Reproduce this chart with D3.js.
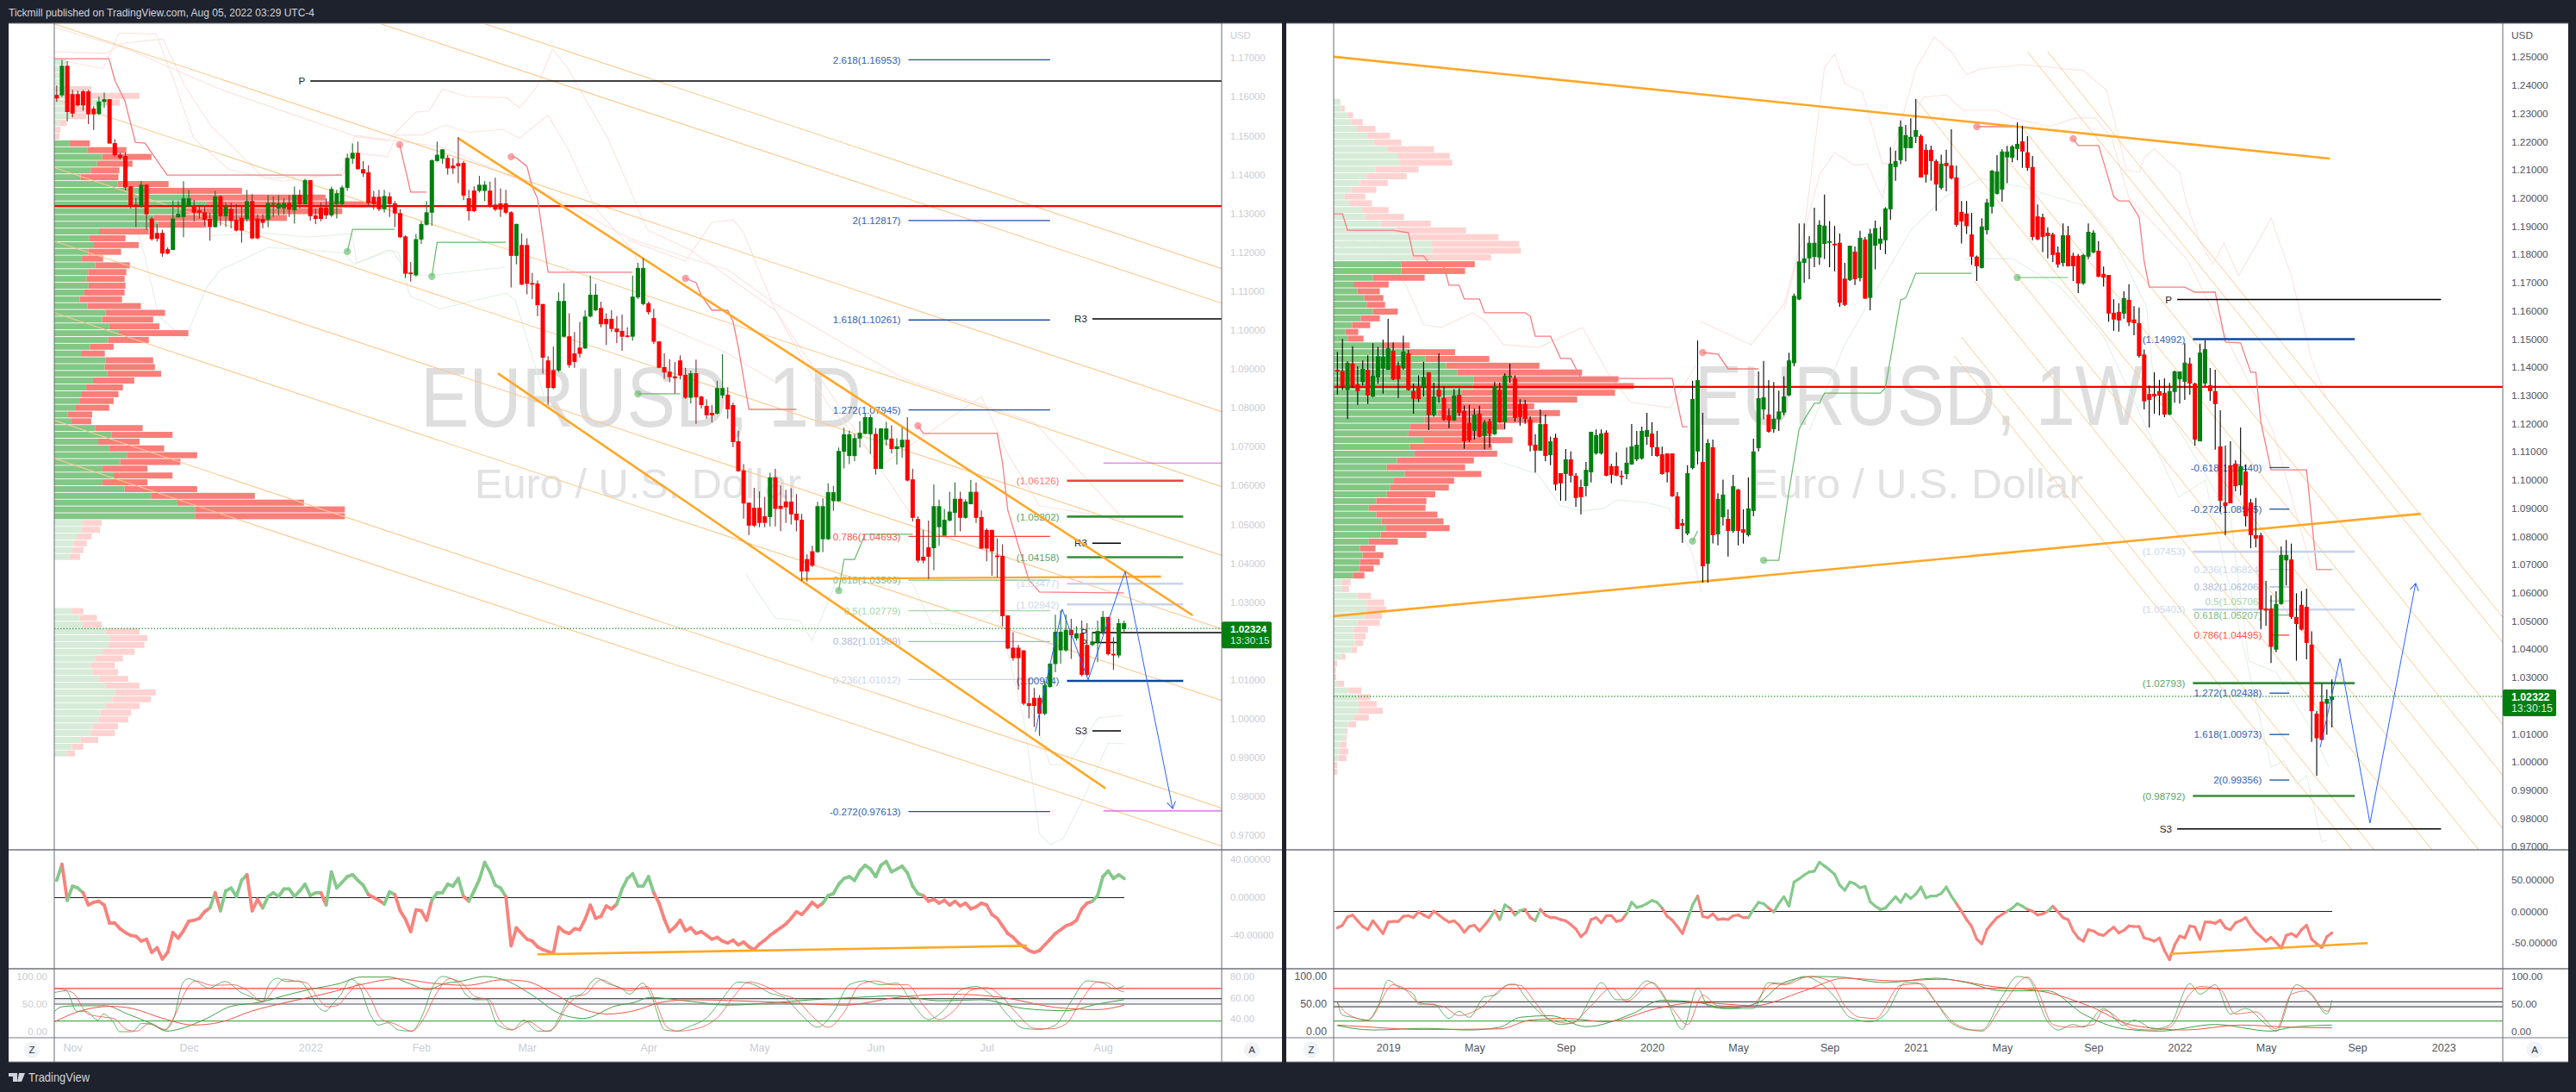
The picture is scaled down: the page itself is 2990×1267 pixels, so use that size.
<!DOCTYPE html>
<html>
<head>
<meta charset="utf-8">
<title>EURUSD 1D / 1W</title>
<script src="https://cdn.jsdelivr.net/npm/d3@7"></script>
<style>
  html, body { margin: 0; padding: 0; background: #1e222d; }
  svg { display: block; }
  text { font-family: "Liberation Sans", Arial, sans-serif; }
  .domain { display: none; }
</style>
</head>
<body>
<div id="chart"></div>
<script>
// Daily candles: open, high, low, close
var dailyCandles = [
[1.1605,1.1629,1.1587,1.1596],[1.1604,1.1695,1.1599,1.1680],[1.1680,1.1692,1.1537,1.1561],[1.1607,1.1618,1.1547,1.1557],
[1.1607,1.1616,1.1576,1.1578],[1.1614,1.1618,1.1564,1.1578],[1.1614,1.1618,1.1530,1.1555],[1.1570,1.1576,1.1515,1.1555],
[1.1556,1.1601,1.1553,1.1588],[1.1587,1.1611,1.1572,1.1594],[1.1594,1.1594,1.1480,1.1480],[1.1481,1.1491,1.1446,1.1450],
[1.1451,1.1457,1.1439,1.1443],[1.1448,1.1457,1.1360,1.1367],[1.1370,1.1370,1.1313,1.1319],[1.1323,1.1339,1.1265,1.1317],
[1.1318,1.1383,1.1315,1.1374],[1.1374,1.1376,1.1258,1.1298],[1.1287,1.1291,1.1230,1.1234],[1.1250,1.1273,1.1228,1.1235],
[1.1250,1.1258,1.1189,1.1197],[1.1208,1.1213,1.1195,1.1197],[1.1206,1.1333,1.1206,1.1287],[1.1290,1.1332,1.1290,1.1299],
[1.1291,1.1383,1.1239,1.1339],[1.1318,1.1361,1.1317,1.1339],[1.1321,1.1335,1.1280,1.1302],[1.1308,1.1321,1.1287,1.1302],
[1.1303,1.1317,1.1269,1.1284],[1.1286,1.1302,1.1230,1.1265],[1.1265,1.1358,1.1264,1.1344],[1.1344,1.1347,1.1269,1.1293],
[1.1293,1.1328,1.1265,1.1318],[1.1312,1.1328,1.1262,1.1281],[1.1284,1.1324,1.1254,1.1256],[1.1289,1.1321,1.1225,1.1256],
[1.1286,1.1361,1.1280,1.1332],[1.1332,1.1350,1.1234,1.1236],[1.1287,1.1298,1.1234,1.1236],[1.1286,1.1298,1.1262,1.1276],
[1.1284,1.1347,1.1265,1.1327],[1.1323,1.1344,1.1291,1.1327],[1.1313,1.1347,1.1295,1.1326],[1.1313,1.1339,1.1298,1.1327],
[1.1327,1.1347,1.1291,1.1310],[1.1308,1.1369,1.1274,1.1348],[1.1348,1.1361,1.1313,1.1324],[1.1324,1.1389,1.1323,1.1386],
[1.1386,1.1386,1.1281,1.1293],[1.1295,1.1313,1.1273,1.1286],[1.1315,1.1328,1.1280,1.1286],[1.1315,1.1339,1.1286,1.1295],
[1.1295,1.1369,1.1291,1.1363],[1.1324,1.1361,1.1287,1.1352],[1.1324,1.1372,1.1317,1.1367],[1.1366,1.1454,1.1358,1.1443],
[1.1441,1.1480,1.1428,1.1456],[1.1456,1.1485,1.1413,1.1414],[1.1414,1.1435,1.1394,1.1403],[1.1406,1.1424,1.1317,1.1326],
[1.1343,1.1358,1.1310,1.1324],[1.1343,1.1361,1.1306,1.1311],[1.1311,1.1361,1.1302,1.1345],[1.1344,1.1354,1.1291,1.1324],
[1.1326,1.1332,1.1265,1.1300],[1.1301,1.1311,1.1237,1.1239],[1.1241,1.1244,1.1134,1.1145],[1.1148,1.1175,1.1125,1.1144],
[1.1141,1.1247,1.1138,1.1234],[1.1233,1.1280,1.1222,1.1273],[1.1271,1.1332,1.1269,1.1303],[1.1302,1.1439,1.1269,1.1437],
[1.1435,1.1485,1.1433,1.1451],[1.1441,1.1465,1.1428,1.1465],[1.1443,1.1450,1.1400,1.1416],[1.1423,1.1443,1.1402,1.1416],
[1.1429,1.1496,1.1378,1.1422],[1.1430,1.1435,1.1334,1.1346],[1.1339,1.1361,1.1282,1.1306],[1.1359,1.1370,1.1304,1.1306],
[1.1358,1.1397,1.1354,1.1374],[1.1358,1.1383,1.1332,1.1374],[1.1359,1.1382,1.1315,1.1318],[1.1323,1.1392,1.1306,1.1310],
[1.1326,1.1365,1.1291,1.1310],[1.1326,1.1361,1.1298,1.1302],[1.1303,1.1306,1.1110,1.1191],[1.1191,1.1274,1.1169,1.1273],
[1.1219,1.1249,1.1116,1.1117],[1.1219,1.1236,1.1092,1.1119],[1.1121,1.1147,1.1080,1.1117],[1.1120,1.1128,1.1036,1.1064],
[1.1067,1.1067,1.0888,1.0929],[1.0922,1.0933,1.0808,1.0851],[1.0897,1.0958,1.0848,1.0851],[1.0896,1.1097,1.0892,1.1075],
[1.0983,1.1121,1.0981,1.1075],[1.0984,1.1043,1.0903,1.0910],[1.0940,1.0995,1.0903,1.0918],[1.0955,1.1021,1.0929,1.0939],
[1.0953,1.1051,1.0951,1.1035],[1.1035,1.1140,1.1032,1.1091],[1.1051,1.1119,1.1049,1.1091],[1.1057,1.1073,1.1007,1.1015],
[1.1029,1.1043,1.0962,1.1015],[1.1029,1.1051,1.0995,1.1003],[1.1004,1.1036,1.0966,1.0995],[1.0998,1.1040,1.0947,1.0983],
[1.0986,1.1007,1.0981,1.0983],[1.0983,1.1140,1.0973,1.1086],[1.1084,1.1173,1.1080,1.1160],[1.1067,1.1185,1.1064,1.1160],
[1.1069,1.1073,1.1040,1.1046],[1.1031,1.1055,1.0964,1.0970],[1.0971,1.0971,1.0903,1.0903],[1.0905,1.0940,1.0875,1.0891],
[1.0893,1.0925,1.0866,1.0879],[1.0881,1.0918,1.0837,1.0876],[1.0922,1.0935,1.0873,1.0883],[1.0885,1.0903,1.0823,1.0826],
[1.0826,1.0896,1.0811,1.0889],[1.0889,1.0924,1.0759,1.0827],[1.0829,1.0831,1.0798,1.0807],[1.0805,1.0822,1.0772,1.0781],
[1.0787,1.0807,1.0763,1.0781],[1.0785,1.0870,1.0783,1.0851],[1.0832,1.0938,1.0825,1.0851],[1.0834,1.0853,1.0772,1.0796],
[1.0807,1.0814,1.0699,1.0712],[1.0714,1.0741,1.0635,1.0637],[1.0639,1.0655,1.0515,1.0554],[1.0556,1.0556,1.0473,1.0497],
[1.0543,1.0594,1.0493,1.0497],[1.0543,1.0585,1.0493,1.0504],[1.0521,1.0571,1.0493,1.0504],[1.0519,1.0633,1.0495,1.0621],
[1.0621,1.0643,1.0495,1.0540],[1.0548,1.0600,1.0483,1.0540],[1.0559,1.0589,1.0504,1.0544],[1.0559,1.0593,1.0500,1.0526],
[1.0528,1.0578,1.0482,1.0511],[1.0512,1.0527,1.0355,1.0379],[1.0411,1.0423,1.0353,1.0379],[1.0431,1.0445,1.0390,1.0394],
[1.0429,1.0558,1.0427,1.0547],[1.0462,1.0567,1.0429,1.0547],[1.0462,1.0606,1.0460,1.0583],[1.0560,1.0599,1.0535,1.0583],
[1.0560,1.0698,1.0559,1.0689],[1.0687,1.0749,1.0644,1.0732],[1.0676,1.0741,1.0655,1.0732],[1.0676,1.0733,1.0663,1.0722],
[1.0721,1.0766,1.0698,1.0736],[1.0733,1.0786,1.0732,1.0776],[1.0732,1.0783,1.0681,1.0776],[1.0733,1.0748,1.0628,1.0643],
[1.0643,1.0748,1.0643,1.0747],[1.0718,1.0764,1.0703,1.0747],[1.0721,1.0755,1.0683,1.0694],[1.0694,1.0722,1.0654,1.0701],
[1.0698,1.0749,1.0672,1.0718],[1.0718,1.0776,1.0611,1.0613],[1.0616,1.0643,1.0508,1.0517],[1.0514,1.0521,1.0402,1.0407],
[1.0417,1.0486,1.0400,1.0407],[1.0441,1.0510,1.0360,1.0417],[1.0439,1.0603,1.0382,1.0547],[1.0493,1.0564,1.0445,1.0547],
[1.0471,1.0540,1.0471,1.0512],[1.0510,1.0584,1.0508,1.0533],[1.0530,1.0608,1.0471,1.0566],[1.0566,1.0584,1.0482,1.0517],
[1.0517,1.0565,1.0515,1.0559],[1.0552,1.0615,1.0552,1.0584],[1.0584,1.0608,1.0504,1.0517],[1.0519,1.0536,1.0437,1.0438],
[1.0486,1.0490,1.0405,1.0438],[1.0486,1.0486,1.0368,1.0431],[1.0420,1.0464,1.0364,1.0416],[1.0419,1.0449,1.0238,1.0264],
[1.0266,1.0266,1.0179,1.0181],[1.0183,1.0223,1.0149,1.0156],[1.0183,1.0190,1.0075,1.0156],[1.0176,1.0176,1.0035,1.0039],
[1.0040,1.0105,1.0001,1.0033],[1.0054,1.0079,0.9979,1.0033],[1.0054,1.0061,0.9956,1.0013],[1.0013,1.0098,1.0009,1.0087],
[1.0082,1.0142,1.0080,1.0142],[1.0141,1.0268,1.0120,1.0224],[1.0176,1.0279,1.0142,1.0224],[1.0176,1.0268,1.0173,1.0229],
[1.0229,1.0257,1.0154,1.0215],[1.0207,1.0238,1.0201,1.0220],[1.0220,1.0253,1.0109,1.0113],[1.0190,1.0246,1.0109,1.0113],
[1.0190,1.0223,1.0187,1.0199],[1.0196,1.0253,1.0146,1.0226],[1.0223,1.0277,1.0216,1.0262],[1.0262,1.0262,1.0163,1.0166],
[1.0167,1.0210,1.0126,1.0163],[1.0163,1.0257,1.0157,1.0246],[1.0231,1.0253,1.0223,1.0246]
];

// Weekly candles: open, high, low, close
var weeklyCandles = [
[1.1391,1.1454,1.1303,1.1385],[1.1386,1.1500,1.1319,1.1332],[1.1319,1.1421,1.1217,1.1416],[1.1413,1.1474,1.1327,1.1332],
[1.1339,1.1403,1.1266,1.1315],[1.1347,1.1424,1.1335,1.1394],[1.1391,1.1442,1.1269,1.1299],[1.1296,1.1485,1.1294,1.1370],
[1.1364,1.1472,1.1342,1.1439],[1.1395,1.1498,1.1306,1.1437],[1.1391,1.1571,1.1390,1.1467],[1.1458,1.1488,1.1354,1.1357],
[1.1406,1.1419,1.1291,1.1357],[1.1396,1.1512,1.1391,1.1455],[1.1449,1.1461,1.1317,1.1319],[1.1315,1.1342,1.1235,1.1288],
[1.1332,1.1371,1.1276,1.1287],[1.1329,1.1419,1.1296,1.1365],[1.1382,1.1382,1.1177,1.1230],[1.1230,1.1345,1.1225,1.1296],
[1.1321,1.1449,1.1273,1.1296],[1.1291,1.1332,1.1210,1.1214],[1.1229,1.1253,1.1184,1.1211],[1.1211,1.1322,1.1210,1.1299],
[1.1302,1.1325,1.1227,1.1238],[1.1245,1.1264,1.1111,1.1137],[1.1203,1.1266,1.1135,1.1141],[1.1174,1.1253,1.1143,1.1232],
[1.1235,1.1263,1.1151,1.1153],[1.1156,1.1212,1.1108,1.1205],[1.1208,1.1217,1.1115,1.1165],[1.1162,1.1347,1.1159,1.1333],
[1.1321,1.1345,1.1203,1.1205],[1.1205,1.1378,1.1181,1.1370],[1.1364,1.1412,1.1345,1.1370],[1.1360,1.1371,1.1207,1.1220],
[1.1269,1.1286,1.1192,1.1223],[1.1269,1.1284,1.1199,1.1217],[1.1214,1.1225,1.1101,1.1122],[1.1125,1.1162,1.1026,1.1104],
[1.1104,1.1250,1.1103,1.1198],[1.1198,1.1232,1.1067,1.1085],[1.1088,1.1154,1.1052,1.1137],[1.1150,1.1164,1.0963,1.0984],
[1.1024,1.1024,1.0926,1.0988],[1.1021,1.1110,1.0926,1.1073],[1.1073,1.1101,1.0991,1.1015],[1.1015,1.1024,1.0905,1.0936],
[1.0975,1.1001,1.0878,1.0939],[1.0978,1.1064,1.0942,1.1036],[1.1027,1.1171,1.0991,1.1171],[1.1094,1.1179,1.1090,1.1159],
[1.1094,1.1179,1.1090,1.1165],[1.1168,1.1176,1.1013,1.1015],[1.1049,1.1057,1.0988,1.1018],[1.1049,1.1098,1.1013,1.1015],
[1.1015,1.1033,1.0982,1.1012],[1.1021,1.1115,1.1003,1.1061],[1.1055,1.1198,1.1054,1.1119],[1.1073,1.1174,1.1067,1.1125],
[1.1076,1.1189,1.1072,1.1174],[1.1153,1.1238,1.1125,1.1177],[1.1165,1.1205,1.1085,1.1116],[1.1116,1.1174,1.1082,1.1085],
[1.1091,1.1118,1.1019,1.1021],[1.1094,1.1094,1.0991,1.1027],[1.1094,1.1094,1.0940,1.0942],[1.0942,1.0957,1.0825,1.0826],
[1.0847,1.0862,1.0777,1.0838],[1.0810,1.1052,1.0804,1.1024],[1.1042,1.1352,1.1038,1.1287],[1.1101,1.1495,1.1055,1.1354],
[1.1064,1.1238,1.0636,1.0694],[1.0703,1.1145,1.0636,1.1131],[1.1116,1.1143,1.0775,1.0804],[1.0807,1.0953,1.0768,1.0933],
[1.0868,1.1001,1.0838,1.0948],[1.0862,1.0896,1.0728,1.0819],[1.0819,1.1018,1.0812,1.0978],[1.0966,1.0968,1.0768,1.0819],
[1.0825,1.0896,1.0774,1.0813],[1.0804,1.1009,1.0799,1.0899],[1.0890,1.1146,1.0871,1.1101],[1.1113,1.1385,1.1101,1.1290],
[1.1250,1.1422,1.1215,1.1293],[1.1232,1.1354,1.1168,1.1171],[1.1180,1.1347,1.1168,1.1217],[1.1215,1.1317,1.1174,1.1243],
[1.1239,1.1368,1.1230,1.1296],[1.1300,1.1451,1.1297,1.1424],[1.1414,1.1661,1.1403,1.1653],[1.1640,1.1910,1.1638,1.1775],
[1.1770,1.1910,1.1699,1.1786],[1.1786,1.1865,1.1712,1.1841],[1.1791,1.1966,1.1755,1.1841],[1.1789,1.1921,1.1763,1.1905],
[1.1837,1.2012,1.1784,1.1902],[1.1841,1.1918,1.1755,1.1847],[1.1838,1.1901,1.1740,1.1832],[1.1841,1.1874,1.1614,1.1628],
[1.1714,1.1770,1.1617,1.1621],[1.1709,1.1831,1.1706,1.1831],[1.1810,1.1828,1.1691,1.1712],[1.1716,1.1884,1.1704,1.1859],
[1.1853,1.1862,1.1643,1.1643],[1.1646,1.1891,1.1602,1.1874],[1.1831,1.1920,1.1747,1.1893],[1.1838,1.1898,1.1816,1.1856],
[1.1850,1.1967,1.1801,1.1963],[1.1960,1.2180,1.1923,1.2122],[1.2110,1.2168,1.2061,1.2131],[1.2134,1.2275,1.2120,1.2253],
[1.2177,1.2259,1.2130,1.2223],[1.2177,1.2283,1.2177,1.2217],[1.2217,1.2351,1.2195,1.2241],[1.2220,1.2226,1.2073,1.2073],
[1.2171,1.2191,1.2055,1.2083],[1.2171,1.2186,1.2061,1.2131],[1.2131,1.2137,1.1954,1.2048],[1.2036,1.2154,1.2030,1.2122],
[1.2125,1.2171,1.2024,1.2113],[1.2116,1.2244,1.2066,1.2070],[1.2073,1.2115,1.1898,1.1905],[1.1951,1.1989,1.1839,1.1917],
[1.1945,1.1989,1.1872,1.1900],[1.1871,1.1947,1.1763,1.1792],[1.1792,1.1796,1.1706,1.1758],[1.1752,1.1928,1.1750,1.1899],
[1.1886,1.1997,1.1871,1.1984],[1.1969,1.2099,1.1945,1.2097],[1.2015,1.2152,1.2012,1.2094],[1.2030,1.2173,1.1987,1.2165],
[1.2144,1.2185,1.2053,1.2165],[1.2143,1.2188,1.2127,1.2183],[1.2174,1.2268,1.2134,1.2192],[1.2201,1.2256,1.2107,1.2165],
[1.2162,1.2219,1.2096,1.2107],[1.2110,1.2149,1.1850,1.1862],[1.1935,1.1977,1.1850,1.1853],[1.1932,1.1944,1.1808,1.1862],
[1.1877,1.1896,1.1786,1.1865],[1.1871,1.1877,1.1773,1.1798],[1.1807,1.1828,1.1753,1.1764],[1.1770,1.1910,1.1757,1.1868],
[1.1868,1.1901,1.1757,1.1758],[1.1795,1.1806,1.1706,1.1758],[1.1795,1.1801,1.1663,1.1697],[1.1697,1.1801,1.1692,1.1798],
[1.1792,1.1910,1.1784,1.1880],[1.1807,1.1885,1.1804,1.1877],[1.1813,1.1847,1.1719,1.1721],[1.1731,1.1757,1.1686,1.1718],
[1.1727,1.1727,1.1561,1.1590],[1.1593,1.1641,1.1529,1.1569],[1.1596,1.1627,1.1526,1.1566],[1.1590,1.1669,1.1572,1.1645],
[1.1639,1.1694,1.1546,1.1559],[1.1569,1.1616,1.1513,1.1556],[1.1556,1.1612,1.1434,1.1440],[1.1445,1.1463,1.1250,1.1279],
[1.1305,1.1335,1.1186,1.1284],[1.1305,1.1382,1.1235,1.1296],[1.1315,1.1355,1.1229,1.1299],[1.1309,1.1360,1.1223,1.1232],
[1.1232,1.1344,1.1230,1.1315],[1.1312,1.1388,1.1274,1.1385],[1.1357,1.1385,1.1271,1.1385],[1.1348,1.1485,1.1284,1.1416],
[1.1413,1.1434,1.1302,1.1342],[1.1342,1.1345,1.1122,1.1143],[1.1137,1.1483,1.1137,1.1452],[1.1342,1.1495,1.1332,1.1464],
[1.1336,1.1397,1.1281,1.1315],[1.1315,1.1391,1.1107,1.1269],[1.1119,1.1247,1.0887,1.0926],[1.0920,1.1122,1.0804,1.0908],
[1.1052,1.1137,1.0917,1.0917],[1.1058,1.1070,1.0960,1.0978],[1.0981,1.1186,1.0945,1.1049],[1.1030,1.1055,1.0835,1.0871],
[1.0920,1.0933,1.0758,1.0804],[1.0804,1.0936,1.0761,1.0792],[1.0804,1.0812,1.0471,1.0540],[1.0544,1.0642,1.0483,1.0537],
[1.0544,1.0591,1.0351,1.0408],[1.0398,1.0605,1.0389,1.0560],[1.0560,1.0764,1.0558,1.0734],[1.0715,1.0787,1.0626,1.0734],
[1.0718,1.0774,1.0507,1.0514],[1.0514,1.0598,1.0359,1.0489],[1.0557,1.0605,1.0466,1.0469],[1.0550,1.0614,1.0364,1.0422],
[1.0416,1.0463,1.0071,1.0180],[1.0171,1.0180,0.9951,1.0084],[1.0214,1.0277,1.0076,1.0078],[1.0206,1.0257,1.0096,1.0223],
[1.0220,1.0293,1.0122,1.0232]
];

// Volume profile rows, top price row downwards
var dailyUpVolume = [26,16,15,14,36,83,116,26,39,11,4,4,
  34,75,109,97,83,60,144,214,306,346,296,226,236,102,80,90,77,63,93,77,74,78,67,58,76,117,109,125,147,123,81,61,117,115,121,88,71,61,57,49,31,39,93,
  130,100,125,165,150,110,135,110,160,220,280,320,320,
  65,62,51,44,40,35,0,0,0,0,0,0,0,
  40,58,65,117,127,123,110,94,83,87,101,116,139,132,116,105,101,87,83,60,40,28];
var dailyDownVolume = [1,1,1,1,48,111,33,50,34,17,10,8,
  47,89,112,81,65,86,116,213,311,395,359,303,110,113,82,102,75,48,79,87,86,84,93,96,121,135,116,114,158,92,54,54,108,114,122,94,85,85,78,76,55,45,108,
  139,94,125,160,137,102,134,102,165,236,288,341,341,
  43,42,34,30,26,24,0,0,0,0,0,0,0,
  26,39,43,77,85,82,73,62,55,58,67,78,92,88,78,70,67,58,55,40,26,19];
var weeklyUpVolume = [12,17,32,40,53,76,91,121,145,151,95,75,60,40,25,35,65,73,107,142,173,222,225,177,
  154,154,89,47,54,70,75,89,62,42,27,32,
  112,170,209,256,281,318,317,291,255,255,236,207,173,170,204,174,184,144,121,162,137,129,121,97,80,97,109,118,107,80,60,66,60,58,44,
  18,18,54,75,75,72,54,44,46,48,40,17,2,2,2,10,34,54,57,57,47,34,26,26,15,13,11,2,2];
var weeklyDownVolume = [3,8,12,26,42,52,63,107,119,119,98,91,63,57,47,52,60,87,114,159,202,200,201,181,
  167,145,118,78,51,43,42,57,43,41,29,36,
  61,106,145,212,284,330,366,349,299,201,279,266,217,190,203,186,188,175,178,174,137,133,110,114,129,139,141,146,104,66,35,47,45,33,26,
  21,17,31,40,45,38,51,34,27,19,13,10,6,3,4,14,29,30,41,55,33,17,5,4,14,20,18,6,6];

// Momentum pane, one value per bar
var dailyMomentum = [18,35,-3,12,10,5,-8,-5,-4,-8,-27,-27,-33,-37,-40,-41,-46,-44,-58,-53,-65,-58,-37,-43,-35,-25,-24,-22,-15,-11,5,-14,7,10,1,18,24,-14,-2,-11,1,5,1,9,9,1,7,14,2,5,5,-8,27,10,16,22,24,18,13,3,0,-3,-7,6,3,-14,-23,-36,-13,-14,-24,-3,5,5,14,12,20,1,-4,7,19,37,27,13,10,1,-51,-32,-38,-44,-46,-52,-55,-57,-59,-31,-36,-38,-33,-34,-23,-8,-22,-20,-9,-12,-7,9,20,25,12,12,22,5,-6,-23,-36,-31,-24,-35,
  -32,-38,-36,-40,-44,-42,-46,-48,-45,-50,-47,-52,-55,-49,-45,-40,-36,-32,-28,-22,-15,-18,-12,-5,-10,-6,2,4,14,20,22,18,28,34,30,22,34,38,27,30,33,26,12,4,2,-4,-2,-6,-3,-8,-4,-9,-6,-12,-10,-6,-8,-18,-22,-30,-38,-42,-48,-52,-56,-58,-56,-50,-44,-38,-34,-30,-28,-24,-12,-6,-4,2,22,28,20,24,20];
var weeklyMomentum = [-26,-22,-9,-6,-15,-24,-29,-15,-25,-35,-17,-16,-16,-8,-7,-10,-1,-6,-10,0,-6,-12,-17,-15,-22,-33,-24,-22,-31,-22,-12,1,-13,10,5,-6,1,3,-10,-15,3,-6,-10,-10,-13,-15,-21,-28,-40,-33,-13,-10,-18,-7,-7,-16,-14,-4,14,6,8,12,17,14,5,-8,-14,-24,-35,-13,10,24,-8,-10,-4,-13,-12,-13,-7,-6,-10,-10,3,14,12,5,-1,12,23,8,46,51,57,62,63,77,71,65,58,41,33,46,43,37,39,15,8,3,5,14,23,14,27,20,27,38,21,24,24,28,38,24,12,0,-13,-24,-44,-51,-29,-19,-10,-5,0,5,12,8,3,0,-6,-4,0,8,-1,-10,-13,-31,-42,-47,-29,-31,-36,-38,-31,-25,-34,-30,-23,-24,-24,-42,-44,-47,-42,-62,-76,-53,-39,-42,-23,-25,-44,-17,-17,-19,-14,-26,-29,-18,-15,-10,-23,-33,-40,-47,-41,-49,-58,-38,-35,-40,-29,-22,-44,-51,-57,-40,-34];

// Stochastic pane, bar and value as read at the turning points
var dailyStochFast = [[0.6,71],[2.8,74],[4.8,37],[6.5,37],[8.8,21],[9.8,32],[11.8,16],[12.9,0],[15.3,0],[17.1,15],[19,13],[21.5,3],[23.2,26],[24.8,87],[25.9,96],[27.3,92],[29.8,79],[32.9,91],[35.9,71],[37.8,63],[40,54],[41.1,84],[42.8,97],[44.4,91],[46.9,92],[48.6,74],[50.3,47],[51.9,37],[53.2,50],[54.8,68],[56.7,95],[58.2,84],[60.3,32],[61.9,12],[63.6,16],[65.7,3],[68.2,1],[70.3,32],[72.3,84],[74,100],[76.9,89],[78.4,68],[80.3,58],[82.3,58],[84.4,13],[87.3,3],[89.4,21],[92.1,1],[94.4,1],[96.1,26],[98.2,63],[100.3,68],[103.2,97],[105.3,87],[107.8,79],[109.4,68],[111.9,88],[113.6,63],[116.1,3],[118.2,1],[120.9,10],[124,25],[127,60],[130,90],[133,85],[136,70],[139,60],[142,30],[145,8],[148,35],[151,85],[154,92],[157,85],[160,88],[163,50],[166,22],[169,40],[172,75],[175,82],[178,65],[181,30],[184,6],[187,4],[190,12],[193,55],[196,92],[199,88],[201,78],[203,83]];
var dailyStochSignal = [[0.6,79],[4,71],[6.9,32],[10.3,26],[11.8,24],[14.4,3],[16.1,1],[18.6,15],[21.5,4],[22.9,21],[26.1,84],[27.3,92],[30.3,84],[34.4,85],[36.9,76],[40,55],[42.3,79],[44,95],[46.5,91],[48.2,89],[50.3,63],[52.3,45],[54,47],[56.1,68],[58.2,87],[60.3,63],[62.3,24],[65.3,13],[68.2,1],[70.3,21],[72.8,68],[75.3,96],[77.8,87],[80.3,63],[82.8,58],[84.8,21],[87.3,4],[90.3,18],[93.6,1],[95.3,8],[97.3,42],[99.4,63],[101.1,68],[104,94],[106.9,82],[109.4,74],[112.8,82],[114.4,53],[116.5,8],[118.6,1],[120.9,3],[126,25],[129,62],[132,90],[135,83],[138,68],[141,58],[144,28],[147,8],[150,35],[153,85],[156,92],[159,85],[162,85],[165,48],[168,22],[171,40],[174,75],[177,80],[180,62],[183,30],[186,6],[189,5],[192,14],[195,58],[198,90],[200,88],[202,75],[203,72]];
var dailyStochSlowUp = [[0.6,37],[1.9,45],[4.8,47],[10.3,47],[14.4,32],[18.6,16],[21.9,1],[25.3,8],[29.4,24],[34,46],[39.4,53],[44.4,66],[48.6,76],[54.4,87],[58.6,99],[64,99],[67.8,87],[71.1,76],[74.4,87],[77.8,92],[81.9,100],[85.3,95],[91.5,63],[95.3,37],[100.7,24],[106.9,47],[110.3,53],[113.2,62],[120.9,55],[128,48],[136,52],[144,58],[152,62],[160,65],[168,56],[176,58],[184,42],[192,38],[198,50],[203,58]];
var dailyStochSlowDown = [[0.6,18],[5.3,37],[11.1,46],[15.3,42],[21.1,24],[26.9,12],[31.9,17],[37.8,37],[44.4,53],[51.9,69],[59.4,87],[65.3,96],[71.9,88],[78.6,84],[85.3,94],[89.4,92],[95.3,68],[100.3,42],[105.3,32],[110.3,38],[115.3,53],[120.9,58],[130,56],[140,52],[150,48],[160,62],[170,68],[180,62],[190,44],[198,40],[203,48]];
var weeklyStochFast = [[1,53],[2,30],[4,26],[7,21],[9,47],[11,93],[13,81],[16,68],[17,50],[20,50],[23,24],[25,37],[27,26],[30,63],[32,66],[35,86],[36,86],[38,63],[42,26],[45,13],[48,18],[51,63],[53,89],[56,58],[58,58],[62,92],[63,89],[66,53],[69,4],[72,79],[74,47],[77,42],[83,42],[86,89],[89,87],[93,100],[96,89],[99,63],[102,26],[106,18],[109,32],[113,89],[115,89],[119,53],[122,16],[126,3],[128,3],[132,63],[135,100],[137,97],[141,18],[143,3],[146,13],[148,8],[152,42],[156,11],[158,21],[162,5],[165,12],[169,87],[171,68],[174,85],[177,32],[180,42],[184,13],[186,1],[190,85],[193,66],[196,32],[197,57]];
var weeklyStochSignal = [[1,53],[3,32],[7,21],[12,85],[14,79],[17,53],[22,45],[25,29],[29,42],[35,85],[37,84],[40,53],[43,21],[47,15],[51,47],[55,79],[58,55],[63,89],[67,42],[70,13],[73,66],[76,47],[82,45],[87,87],[89,85],[94,100],[98,92],[101,47],[104,26],[107,24],[112,84],[116,87],[119,53],[123,13],[128,1],[132,47],[137,99],[139,74],[142,13],[145,8],[150,13],[152,39],[158,5],[162,3],[165,8],[169,68],[171,82],[175,76],[178,32],[182,36],[186,5],[189,68],[192,74],[196,37],[197,45]];
var weeklyStochSlowUp = [[1,11],[8,3],[18,6],[27,3],[33,8],[37,26],[43,29],[50,9],[59,32],[65,57],[72,53],[78,42],[84,53],[89,89],[95,100],[100,99],[109,89],[119,97],[125,89],[132,74],[141,74],[148,32],[156,5],[163,1],[174,13],[185,1],[189,8],[197,12]];
var weeklyStochSlowDown = [[1,12],[8,8],[17,4],[33,5],[39,21],[46,24],[54,18],[64,42],[72,53],[83,47],[93,74],[101,97],[111,92],[120,95],[130,82],[141,71],[149,47],[158,11],[168,3],[179,12],[189,8],[197,7]];

// Step lines that start with a dot: bar, price
var dailyRedSteps = [
  [[0.5,1.1698],[10.9,1.1698],[12,1.1643],[13.9,1.1590],[15.9,1.1483],[17.7,1.1481],[21.9,1.1399],[55,1.1399]],
  [[65.9,1.1477],[68,1.1355],[71,1.1355]],
  [[87,1.1446],[88,1.1443],[90,1.1421],[91,1.1368],[92,1.1339],[94,1.1149],[110,1.1149]],
  [[120,1.1133],[122,1.1122],[123,1.1089],[125,1.1051],[128,1.1051],[129,1.1022],[130,1.0956],[132,1.0796],[141,1.0796]],
  [[164,1.0754],[165,1.0734],[179,1.0734],[180,1.0659],[181,1.0537],[183,1.0446],[185,1.0357],[187,1.0326],[203,1.0324]]
];
var dailyGreenSteps = [
  [[56,1.1202],[57,1.1259],[65,1.1259]],
  [[72,1.1138],[73,1.1226],[86,1.1226]],
  [[111,1.0836],[119,1.0836]],
  [[149,1.0330],[150,1.0410],[152,1.0410],[154,1.0475],[163,1.0475]]
];
var weeklyRedSteps = [
  [[0.3,1.1944],[2,1.1944],[3,1.1886],[12,1.1886],[15,1.1877],[16,1.1795],[18,1.1795],[19,1.1770],[22,1.1755],[23,1.1691],[25,1.1691],[26,1.1642],[29,1.1642],[30,1.1593],[38,1.1593],[39,1.1581],[40,1.1510],[43,1.1510],[45,1.1431],[47,1.1431],[49,1.1360],[67,1.1360],[69,1.1189],[70,1.1189]],
  [[73,1.1452],[76,1.1446],[78,1.1394],[84,1.1394]],
  [[127,1.2253],[134,1.2253]],
  [[146,1.2210],[147,1.2186],[151,1.2186],[152,1.2128],[154,1.2005],[155,1.1990],[157,1.1990],[159,1.1932],[160,1.1776],[161,1.1684],[168,1.1684],[170,1.1666],[174,1.1666],[176,1.1489],[179,1.1486],[181,1.1382],[182,1.1382],[183,1.1205],[185,1.1036],[192,1.1036],[194,1.0682],[197,1.0682]]
];
var weeklyGreenSteps = [
  [[71,1.0783],[72,1.0819]],
  [[85,1.0715],[88,1.0715],[90,1.0960],[92,1.1180],[93,1.1214],[95,1.1272],[96,1.1272],[97,1.1308],[108,1.1308],[109,1.1327],[112,1.1639],[113,1.1645],[115,1.1733],[126,1.1733]],
  [[135,1.1718],[145,1.1718]]
];

// Pale envelope lines: bar, price
var dailyPinkBands = [
  [[0.7,1.1779],[14.4,1.1723],[31.9,1.1620],[56.9,1.1502],[73.6,1.1472],[90.3,1.1376],[109.4,1.1236],[120.9,1.1184],[128,1.1155],[137,1.1067],[161.5,1.0874],[186,1.0763],[203,1.0512]],
  [[0.7,1.1697],[9.8,1.1673],[12.8,1.1764],[19.8,1.1762],[23.2,1.1642],[26.9,1.1494],[33.6,1.1413],[43.6,1.1383],[55.3,1.1402],[57.3,1.1498],[63.6,1.1487],[69,1.1561],[71.5,1.1564],[74,1.1620],[78.6,1.1601],[86.1,1.1598],[88.6,1.1572],[91.9,1.1627],[94.8,1.1723],[97.8,1.1672],[105.3,1.1494],[112.8,1.1258],[120.9,1.1206],[137,1.1051],[163,1.0519]],
  [[0.7,1.1716],[10.3,1.1712],[13.6,1.1738],[21.1,1.1749],[25.3,1.1627],[30.3,1.1524],[40.3,1.1391],[54.4,1.1398],[56.9,1.1457],[63.6,1.1446],[65.3,1.1502],[70.3,1.1502],[74.4,1.1527],[79,1.1509],[85.3,1.1516],[88.6,1.1494],[94,1.1553],[97.8,1.1465],[102.8,1.1317],[110.3,1.1199],[114,1.1022],[128,1.0940],[137,1.0867]],
  [[109,1.1233],[120,1.1177],[125,1.1277],[129,1.1284],[131,1.1251],[137,1.1051],[147,1.0807],[157,1.0652],[176,1.0829],[181,1.0681],[187,1.0548],[203,1.0512]]
];
var dailyGreenBands = [
  [[11,1.1502],[17.8,1.1184],[20.3,1.1036],[25.3,1.0977],[29.4,1.1110],[31.9,1.1154],[41.1,1.1213],[48.6,1.1206],[55.3,1.1199],[57.3,1.1169],[64.4,1.1206],[67.8,1.1140],[73.6,1.1143],[86,1.1162]],
  [[30.3,1.1243],[40.3,1.1250],[48.6,1.1239],[55.3,1.1247],[56.9,1.1247],[57.8,1.1173],[63.6,1.1206],[65.7,1.1199],[67.8,1.1088],[73.6,1.1055],[86,1.1095],[87.8,1.1077],[93.6,1.0814],[98.6,1.0748]],
  [[131.5,1.0370],[137,1.0259],[141.6,1.0253],[144,1.0202],[149,1.0370],[163,1.0348],[166.5,1.0246],[174,1.0237],[179,1.0282],[184,1.0002],[187,0.9705],[189,0.9676],[191.5,0.9692],[195.6,0.9803],[200,0.9938],[203,0.9936]],
  [[184,1.0075],[189,0.9882],[192.5,0.9882],[198,1.0002],[203,1.0009]]
];
var weeklyPinkBands = [
  [[72.5,1.1562],[82.5,1.1480],[89,1.1623],[93,1.1886],[97,1.2464],[99,1.2510],[101,1.2406],[104.5,1.2375],[108.4,1.2122],[109.8,1.2122],[115,1.2458],[118.6,1.2571],[122,1.2519],[125,1.2437],[127.7,1.2458],[136,1.2473],[148,1.2452],[152.6,1.2382],[155,1.2213],[156.5,1.2100],[159,1.2091],[160,1.2143],[162,1.2174],[167,1.2091],[168.4,1.1978],[171,1.1846],[173.5,1.1764],[175.7,1.1840],[178.6,1.1724],[182.5,1.1846],[185,1.1929],[187.6,1.1795],[189,1.1724],[193,1.1428],[196,1.1287]],
  [[89,1.1602],[96,1.2082],[99,1.2161],[103,1.2116],[105.4,1.2122],[108.4,1.1999],[110,1.2122],[116.4,1.2357],[121,1.2366],[124.3,1.2311],[131,1.2311],[134,1.2284],[141.3,1.2253],[146.4,1.2284],[150.3,1.2284],[153.6,1.2213],[157,1.2000],[168.4,1.1785],[178.6,1.1419],[185.4,1.1174],[193,1.0685]],
  [[0.3,1.1807],[5.9,1.1868],[9.4,1.1837],[14.7,1.1684],[18,1.1550],[21.5,1.1541],[27.6,1.1593],[30.2,1.1562],[33.7,1.1480],[40.7,1.1470],[49.3,1.1541],[54.3,1.1379],[58.8,1.1276],[66.6,1.1256],[71.7,1.1409]]
];
var weeklyGreenBands = [
  [[33.7,1.1061],[40.5,1.1021],[45,1.0908],[49.4,1.0890],[53.5,1.0899],[56,1.0929],[62,1.0920],[66.4,1.0899],[71,1.0737],[72.7,1.0602]],
  [[94,1.1174],[101,1.1480],[114,1.1886],[121,1.2009],[128,1.2070],[132,1.2051],[136,1.2039],[149,1.1969],[153.6,1.1868],[160.5,1.1611],[162,1.1327],[177,1.0868],[180.6,1.0358],[186,1.0318],[192.6,1.0125],[196.4,0.9982]],
  [[124.9,1.1785],[134,1.1785],[143.5,1.1684],[152,1.1510],[166.8,1.0939],[172,1.1000],[185,0.9982],[187.5,1.0003],[190,0.9921],[192,0.9951],[195,0.9716],[196,0.9722]]
];

// Channel lines: price at a bar, then sloping down at a fixed rate
var dailyChannels = [[121,1.1612],[121,1.1523],[121,1.1244],[121,1.1051],[121,1.0874],[121,1.0685],[121,1.0501],[121,1.0224],[121,1.0126]];
var weeklyChannels = [[141,1.2519],[137,1.2519],[136,1.2250],[133,1.2137],[115,1.2351],[129,1.1856],[126.5,1.1706],[124,1.1507],[122.6,1.1440]];
var dailyChannelSlope = 0.0004515;
var weeklyChannelSlope = 0.002237;

// Thick trend lines: bar, price, bar, price
var dailyTrends = [[76.9,1.1494,216,1.0266],[84.5,1.0889,199.5,0.9821]];
var weeklyTrends = [[0.3,1.2501,196.6,1.2140],[0.3,1.0517,214.5,1.0880]];
var dailyFlatBand = [142,1.0360,210,1.0366];

// Forecast waves: bar, price
var dailyWave = [[186.2,0.9967],[191.3,1.0282],[196.2,1.0100],[203.2,1.0379],[212.2,0.9769]];
var weeklyWave = [[194.7,1.0052],[198.6,1.0367],[204.5,0.9783],[213.5,1.0633]];

// Levels: price, first bar, last bar, label, colour group
var dailyLevels = [
  [1.16953,162.2,189,"2.618(1.16953)","blue"],[1.12817,162.2,189,"2(1.12817)","blue"],
  [1.10261,162.2,189,"1.618(1.10261)","blue"],[1.07945,162.2,189,"1.272(1.07945)","blue"],
  [1.04693,162.2,189,"0.786(1.04693)","red"],[1.03569,162.2,189,"0.618(1.03569)","green2"],
  [1.02779,162.2,189,"0.5(1.02779)","green3"],[1.01989,162.2,189,"0.382(1.01989)","pale"],
  [1.01012,162.2,189,"0.236(1.01012)","paler"],[0.97613,162.2,189,"-0.272(0.97613)","blue"],
  [1.06126,192.2,214.2,"(1.06126)","redBold"],[1.05202,192.2,214.2,"(1.05202)","greenBold"],
  [1.04158,192.2,214.2,"(1.04158)","greenBold"],[1.03477,192.2,214.2,"(1.03477)","paleBold"],
  [1.02942,192.2,214.2,"(1.02942)","paleBold"],[1.00974,192.2,214.2,"(1.00974)","blueBold"]
];
var weeklyLevels = [
  [1.14992,169.6,201.5,"(1.14992)","blueBold"],[1.07453,169.6,201.5,"(1.07453)","paleBold"],
  [1.05403,169.6,201.5,"(1.05403)","paleBold"],[1.02793,169.6,201.5,"(1.02793)","greenBold"],
  [0.98792,169.6,201.5,"(0.98792)","greenBold"],
  [1.10440,184.7,188.6,"-0.618(1.10440)","blue"],[1.08965,184.7,188.6,"-0.272(1.08965)","blue"],
  [1.06824,184.7,188.6,"0.236(1.06824)","paler"],[1.06206,184.7,188.6,"0.382(1.06206)","pale"],
  [1.05706,184.7,188.6,"0.5(1.05706)","green3"],[1.05207,184.7,188.6,"0.618(1.05207)","green2"],
  [1.04495,184.7,188.6,"0.786(1.04495)","red"],[1.02438,184.7,188.6,"1.272(1.02438)","blue"],
  [1.00973,184.7,188.6,"1.618(1.00973)","blue"],[0.99356,184.7,188.6,"2(0.99356)","blue"]
];
var levelColours = {
  blue: ["#1c4fa0", 1.3, "#2f62b3"], red: ["#f44336", 1.3, "#f4574c"], green2: ["#7dbb84", 1.3, "#7dbb84"],
  green3: ["#a5d6a7", 1.3, "#a5d6a7"], pale: ["#9db4da", 1.3, "#a9bcdc"], paler: ["#c5d4ec", 1.3, "#c9d6ec"],
  redBold: ["#f44336", 2.6, "#f77c70"], greenBold: ["#388e3c", 2.6, "#5ca463"], paleBold: ["#c8d4ea", 2.6, "#ccd7ec"], blueBold: ["#0d47a1", 2.6, "#3566b4"]
};

// Pivot lines: price, first bar, last bar, label
var dailyPivots = [[1.1641,49,221.5,"P"],[1.1029,197,221.5,"R3"],[1.0452,197,202.4,"R3"],[1.0222,197,221.5,"P"],[1.0196,197,202.4,"P"],[0.9969,197,202.4,"S3"]];
var weeklyPivots = [[1.1640,166.5,218.5,"P"],[0.9762,166.5,218.5,"S3"]];
var dailyMagenta = [[1.0658,199.1,221.5],[0.9763,199.1,221.5]];

// Axis ticks
var dailyPriceTicks = d3.range(97, 118).map(function(d) { return d / 100; });
var weeklyPriceTicks = d3.range(97, 126).map(function(d) { return d / 100; });
var dailyTimeBars = [4,26,49,70,90,113,134,156,177,199];
var dailyTimeLabels = ["Nov","Dec","2022","Feb","Mar","Apr","May","Jun","Jul","Aug"];
var weeklyTimeBars = [11,28,46,63,80,98,115,132,150,167,184,202,219];
var weeklyTimeLabels = ["2019","May","Sep","2020","May","Sep","2021","May","Sep","2022","May","Sep","2023"];

var svgWidth = 2990;
var svgHeight = 1267;

var svg = d3.select("#chart").append("svg")
    .attr("width", svgWidth)
    .attr("height", svgHeight);

svg.append("defs").append("marker")
    .attr("id", "arrow")
    .attr("markerUnits", "userSpaceOnUse")
    .attr("markerWidth", 14).attr("markerHeight", 14)
    .attr("refX", 10).attr("refY", 6)
    .attr("orient", "auto")
  .append("path")
    .attr("d", "M2,1 L10,6 L2,11")
    .attr("fill", "none")
    .attr("stroke", "#2962ff")
    .attr("stroke-width", 1);

// Header and footer
svg.append("text")
    .attr("x", 10).attr("y", 18.5)
    .attr("fill", "#d1d4dc")
    .attr("font-size", 12.5)
    .attr("textLength", 355).attr("lengthAdjust", "spacingAndGlyphs")
    .text("Tickmill published on TradingView.com, Aug 05, 2022 03:29 UTC-4");
svg.append("path")
    .attr("d", "M10,1245 H20 V1255 H15 V1249 H10 Z M22,1245 H29 L25,1255 H20 Z")
    .attr("fill", "#d1d4dc");
svg.append("text")
    .attr("x", 33).attr("y", 1255)
    .attr("fill", "#d1d4dc")
    .attr("font-size", 15)
    .attr("textLength", 71).attr("lengthAdjust", "spacingAndGlyphs")
    .text("TradingView");

var panelId = 0;

// d3.format puts a unicode minus in, the chart uses a plain hyphen
function fixed(digits) {
  return function(d) { return d.toFixed(digits); };
}

function drawPanel(cfg) {
  panelId += 1;
  var g = svg.append("g");
  var x = d3.scaleLinear().domain(cfg.barDomain).range(cfg.barRange);
  var y = d3.scaleLinear().domain(cfg.priceDomain).range(cfg.priceRange);
  var yMom = d3.scaleLinear().domain([-1, 1]).range([cfg.momZero + cfg.momScale, cfg.momZero - cfg.momScale]);
  var yStoch = d3.scaleLinear().domain([0, 100]).range([1197, 1133]);
  var volX = d3.scaleLinear().domain([0, 196]).range([0, 100]);

  g.append("rect")
      .attr("x", cfg.left).attr("y", 27)
      .attr("width", cfg.right - cfg.left).attr("height", 1205)
      .attr("fill", "#ffffff");

  var clipMain = "clipMain" + panelId;
  var clipMom = "clipMom" + panelId;
  var clipStoch = "clipStoch" + panelId;
  var defs = svg.select("defs");
  defs.append("clipPath").attr("id", clipMain).append("rect")
      .attr("x", cfg.plotLeft).attr("y", 28).attr("width", cfg.plotRight - cfg.plotLeft).attr("height", 958);
  defs.append("clipPath").attr("id", clipMom).append("rect")
      .attr("x", cfg.plotLeft).attr("y", 986).attr("width", cfg.plotRight - cfg.plotLeft).attr("height", 138);
  defs.append("clipPath").attr("id", clipStoch).append("rect")
      .attr("x", cfg.plotLeft).attr("y", 1124).attr("width", cfg.plotRight - cfg.plotLeft).attr("height", 80);

  // Watermark
  g.append("text")
      .attr("x", cfg.markX).attr("y", cfg.markY)
      .attr("font-size", 98).attr("fill", "#dedede")
      .attr("textLength", cfg.markLength).attr("lengthAdjust", "spacingAndGlyphs")
      .text(cfg.symbol);
  g.append("text")
      .attr("x", cfg.subX).attr("y", 578)
      .attr("font-size", 48).attr("fill", "#e2e2e2")
      .attr("textLength", cfg.subLength).attr("lengthAdjust", "spacingAndGlyphs")
      .text("Euro / U.S. Dollar");

  var main = g.append("g").attr("clip-path", "url(#" + clipMain + ")");
  var priceLine = d3.line().x(function(d) { return x(d[0]); }).y(function(d) { return y(d[1]); });

  // Pale envelopes
  cfg.pink.forEach(function(b) {
    main.append("path").attr("d", priceLine(b)).attr("fill", "none").attr("stroke", "#fde3e0").attr("stroke-width", 1.1);
  });
  cfg.greenBands.forEach(function(b) {
    main.append("path").attr("d", priceLine(b)).attr("fill", "none").attr("stroke", "#e3f1e5").attr("stroke-width", 1.1);
  });

  // Volume profile
  var rowH = Math.abs(y(0) - y(cfg.rowBin));
  cfg.up.forEach(function(u, i) {
    var price = cfg.rowTop - i * cfg.rowBin;
    var dark = i >= cfg.darkFrom && i <= cfg.darkTo;
    var rowY = y(price) - rowH / 2 + 0.4;
    main.append("rect")
        .attr("x", cfg.plotLeft).attr("y", rowY)
        .attr("width", volX(u)).attr("height", rowH - 0.9)
        .attr("fill", dark ? "#82c785" : "#d6ebd8");
    main.append("rect")
        .attr("x", cfg.plotLeft + volX(u)).attr("y", rowY)
        .attr("width", volX(cfg.down[i])).attr("height", rowH - 0.9)
        .attr("fill", dark ? "#f97d78" : "#fed2d0");
  });

  // Channels
  cfg.channels.forEach(function(c) {
    var endBar = cfg.barDomain[1] + 60;
    main.append("line")
        .attr("x1", x(c[0] - cfg.channelBack)).attr("y1", y(c[1] + cfg.channelBack * cfg.slope))
        .attr("x2", x(endBar)).attr("y2", y(c[1] - (endBar - c[0]) * cfg.slope))
        .attr("stroke", cfg.channelColour).attr("stroke-width", cfg.channelWidth);
  });

  // Main horizontal red level
  main.append("line")
      .attr("x1", cfg.plotLeft).attr("x2", cfg.plotRight)
      .attr("y1", y(cfg.redLevel)).attr("y2", y(cfg.redLevel))
      .attr("stroke", "#ff0000").attr("stroke-width", 2.4);

  // Step lines with dots
  function steps(list, colour) {
    list.forEach(function(s) {
      main.append("path").attr("d", priceLine(s)).attr("fill", "none").attr("stroke", colour).attr("stroke-width", 1.2);
      main.append("circle")
          .attr("cx", x(s[0][0])).attr("cy", y(s[0][1])).attr("r", 4.2)
          .attr("fill", colour).attr("opacity", 0.65);
    });
  }
  cfg.redSteps.forEach(function(s) {
    main.append("path").attr("d", priceLine(s)).attr("fill", "none").attr("stroke", "#f77c80").attr("stroke-width", 1.3);
    if (s[0][0] > 1) {
      main.append("circle").attr("cx", x(s[0][0])).attr("cy", y(s[0][1])).attr("r", 4.2).attr("fill", "#f77c80").attr("opacity", 0.7);
    }
  });
  steps(cfg.greenSteps, "#66bb6a");

  // Levels with labels
  cfg.levels.forEach(function(l) {
    var c = levelColours[l[4]];
    main.append("line")
        .attr("x1", x(l[1])).attr("x2", x(l[2]))
        .attr("y1", y(l[0])).attr("y2", y(l[0]))
        .attr("stroke", c[0]).attr("stroke-width", c[1]);
    main.append("text")
        .attr("x", x(l[1]) - 9).attr("y", y(l[0]) + 4.2)
        .attr("text-anchor", "end").attr("font-size", 11.6)
        .attr("fill", c[2])
        .text(l[3]);
  });

  // Pivots
  cfg.pivots.forEach(function(p) {
    main.append("line")
        .attr("x1", x(p[1])).attr("x2", x(p[2]))
        .attr("y1", y(p[0])).attr("y2", y(p[0]))
        .attr("stroke", "#000000").attr("stroke-width", 1.5);
    main.append("text")
        .attr("x", x(p[1]) - 6).attr("y", y(p[0]) + 4.2)
        .attr("text-anchor", "end").attr("font-size", 11.6)
        .attr("fill", "#222")
        .text(p[3]);
  });
  (cfg.magenta || []).forEach(function(m) {
    main.append("line")
        .attr("x1", x(m[1])).attr("x2", x(m[2]))
        .attr("y1", y(m[0])).attr("y2", y(m[0]))
        .attr("stroke", "#d65ce0").attr("stroke-width", 1.2);
  });

  // Thick trends
  cfg.trends.forEach(function(t) {
    main.append("line")
        .attr("x1", x(t[0])).attr("y1", y(t[1]))
        .attr("x2", x(t[2])).attr("y2", y(t[3]))
        .attr("stroke", "#ffa726").attr("stroke-width", 2.6);
  });
  if (cfg.flat) {
    main.append("line")
        .attr("x1", x(cfg.flat[0])).attr("y1", y(cfg.flat[1]))
        .attr("x2", x(cfg.flat[2])).attr("y2", y(cfg.flat[3]))
        .attr("stroke", "#ffa726").attr("stroke-width", 2.4);
  }

  // Candles
  var candle = main.selectAll("g.candle").data(cfg.candles).enter().append("g").attr("class", "candle");
  candle.append("line")
      .attr("x1", function(d, i) { return x(i + 1); })
      .attr("x2", function(d, i) { return x(i + 1); })
      .attr("y1", function(d) { return y(d[1]); })
      .attr("y2", function(d) { return y(d[2]); })
      .attr("stroke", function(d) { return cfg.wick(d[3] >= d[0]); })
      .attr("stroke-width", 1.1);
  candle.append("rect")
      .attr("x", function(d, i) { return x(i + 1) - 2.5; })
      .attr("width", 5)
      .attr("y", function(d) { return y(Math.max(d[0], d[3])); })
      .attr("height", function(d) { return Math.max(1.6, Math.abs(y(d[0]) - y(d[3]))); })
      .attr("fill", function(d) { return d[3] >= d[0] ? "#007f0e" : "#ff0000"; });

  // Forecast wave
  main.append("path")
      .attr("d", priceLine(cfg.wave))
      .attr("fill", "none").attr("stroke", "#2962ff").attr("stroke-width", 1)
      .attr("marker-end", "url(#arrow)");

  // Last price marker
  main.append("line")
      .attr("x1", cfg.plotLeft).attr("x2", cfg.plotRight)
      .attr("y1", y(cfg.last)).attr("y2", y(cfg.last))
      .attr("stroke", "#007f0e").attr("stroke-width", 1)
      .attr("stroke-dasharray", "1.5 2");

  // Momentum pane
  var mom = g.append("g").attr("clip-path", "url(#" + clipMom + ")");
  mom.append("line")
      .attr("x1", cfg.plotLeft).attr("x2", x(cfg.candles.length))
      .attr("y1", yMom(0)).attr("y2", yMom(0))
      .attr("stroke", "#1e1e1e").attr("stroke-width", 1.2)
      .attr("shape-rendering", "crispEdges");
  mom.selectAll("line.seg").data(d3.pairs(cfg.momentum)).enter().append("line")
      .attr("class", "seg")
      .attr("x1", function(d, i) { return x(i + 1); })
      .attr("x2", function(d, i) { return x(i + 2); })
      .attr("y1", function(d) { return yMom(d[0]); })
      .attr("y2", function(d) { return yMom(d[1]); })
      .attr("stroke", function(d) { return d[1] > 0 ? "#85c98a" : "#f9827c"; })
      .attr("stroke-width", cfg.momWidth)
      .attr("stroke-linecap", "round");
  mom.append("line")
      .attr("x1", x(cfg.momTrend[0])).attr("y1", yMom(cfg.momTrend[1]))
      .attr("x2", x(cfg.momTrend[2])).attr("y2", yMom(cfg.momTrend[3]))
      .attr("stroke", "#ffa726").attr("stroke-width", 2.6);

  // Stochastic pane
  var sto = g.append("g").attr("clip-path", "url(#" + clipStoch + ")");
  sto.append("rect")
      .attr("x", cfg.plotLeft).attr("width", cfg.plotRight - cfg.plotLeft)
      .attr("y", yStoch(cfg.stochBand[0])).attr("height", yStoch(cfg.stochBand[1]) - yStoch(cfg.stochBand[0]))
      .attr("fill", "#f2f3f8");
  [[cfg.stochBand[0], "#555"], [cfg.stochBand[1], "#555"], [78.2, "#f44336"], [19.4, "#4caf50"]].forEach(function(r) {
    sto.append("line")
        .attr("x1", cfg.plotLeft).attr("x2", cfg.plotRight)
        .attr("y1", yStoch(r[0])).attr("y2", yStoch(r[0]))
        .attr("stroke", r[1]).attr("stroke-width", 1.2);
  });
  var stochLine = d3.line().x(function(d) { return x(d[0]); }).y(function(d) { return yStoch(d[1]); }).curve(d3.curveMonotoneX);
  [[cfg.slowUp, "#43a047", 1], [cfg.slowDown, "#f05545", 1], [cfg.fast, "#43a047", 0.8], [cfg.signal, "#f05545", 0.8]].forEach(function(s) {
    sto.append("path").attr("d", stochLine(s[0]))
        .attr("fill", "none").attr("stroke", s[1]).attr("stroke-width", s[2]);
  });

  // Frame lines
  [[986, "#2a2e39", 1.2], [1124, "#2a2e39", 1.2], [1204, "#787b86", 1.2], [1232, "#9598a1", 1.2], [27, "#787b86", 1]].forEach(function(h) {
    g.append("line").attr("x1", cfg.left).attr("x2", cfg.right)
        .attr("y1", h[0]).attr("y2", h[0]).attr("stroke", h[1]).attr("stroke-width", h[2]);
  });
  [cfg.plotLeft, cfg.plotRight].forEach(function(v) {
    g.append("line").attr("x1", v).attr("x2", v).attr("y1", 27).attr("y2", 1232)
        .attr("stroke", "#6a6d78").attr("stroke-width", 1);
  });

  // Axes
  function styleAxis(a, colour, size) {
    a.selectAll("text").attr("fill", colour).attr("font-size", size)
        .attr("font-family", "Liberation Sans, Arial, sans-serif");
    a.select(".domain").remove();
  }
  var priceAxis = g.append("g").attr("transform", "translate(" + cfg.plotRight + ",0)")
      .call(d3.axisRight(y).tickValues(cfg.priceTicks).tickSize(0).tickPadding(10).tickFormat(fixed(5)));
  styleAxis(priceAxis, cfg.axisColour, cfg.axisSize);
  var momAxis = g.append("g").attr("transform", "translate(" + cfg.plotRight + ",0)")
      .call(d3.axisRight(yMom).tickValues(cfg.momTicks).tickSize(0).tickPadding(10).tickFormat(fixed(5)));
  styleAxis(momAxis, cfg.axisColour, cfg.axisSize);
  var stochRightScale = d3.scaleLinear().domain(cfg.stochRight.domain).range(cfg.stochRight.range);
  var stochAxis = g.append("g").attr("transform", "translate(" + cfg.plotRight + ",0)")
      .call(d3.axisRight(stochRightScale).tickValues(cfg.stochRight.ticks).tickSize(0).tickPadding(10).tickFormat(fixed(2)));
  styleAxis(stochAxis, cfg.axisColour, cfg.axisSize);
  var stochLeftAxis = g.append("g").attr("transform", "translate(" + cfg.plotLeft + ",0)")
      .call(d3.axisLeft(yStoch).tickValues([0, 50, 100]).tickSize(0).tickPadding(8).tickFormat(fixed(2)));
  styleAxis(stochLeftAxis, cfg.axisColour, cfg.axisSize + 0.5);
  var timeAxis = g.append("g").attr("transform", "translate(0,1204)")
      .call(d3.axisBottom(x).tickValues(cfg.timeBars).tickSize(0).tickPadding(7)
        .tickFormat(function(d, i) { return cfg.timeLabels[i]; }));
  styleAxis(timeAxis, cfg.axisColour, 12.5);

  g.append("text")
      .attr("x", cfg.plotRight + 10).attr("y", 45)
      .attr("fill", cfg.axisColour).attr("font-size", cfg.axisSize)
      .text("USD");

  // Price badge
  var by = y(cfg.last);
  g.append("rect")
      .attr("x", cfg.plotRight).attr("y", by - 8)
      .attr("width", cfg.badgeWidth).attr("height", 31).attr("rx", 2)
      .attr("fill", "#007f0e");
  g.append("text")
      .attr("x", cfg.plotRight + 10).attr("y", by + 5)
      .attr("fill", "#fff").attr("font-size", cfg.axisSize + 0.5).attr("font-weight", "bold")
      .text(cfg.lastLabel);
  g.append("text")
      .attr("x", cfg.plotRight + 10).attr("y", by + 18)
      .attr("fill", "#dfeee0").attr("font-size", cfg.axisSize + 0.5)
      .text("13:30:15");

  // Z and A buttons
  [[cfg.zX, "Z"], [cfg.aX, "A"]].forEach(function(b) {
    g.append("circle").attr("cx", b[0]).attr("cy", 1218).attr("r", 9.5).attr("fill", "#f0f3fa");
    g.append("text").attr("x", b[0]).attr("y", 1222).attr("text-anchor", "middle")
        .attr("font-size", 11.5).attr("fill", "#333").text(b[1]);
  });
}

drawPanel({
  left: 10, right: 1488, plotLeft: 63, plotRight: 1418,
  barDomain: [1, 203], barRange: [65.8, 1304.7],
  priceDomain: [0.97, 1.17], priceRange: [969.3, 67.3],
  candles: dailyCandles,
  wick: function(up) { return up ? "#1f6b2a" : "#7d2f36"; },
  symbol: "EURUSD, 1D", markX: 488, markY: 495, markLength: 512, subX: 551, subLength: 379,
  pink: dailyPinkBands, greenBands: dailyGreenBands,
  up: dailyUpVolume, down: dailyDownVolume,
  rowTop: 1.16896, rowBin: 0.001744, darkFrom: 12, darkTo: 67,
  channels: dailyChannels, slope: dailyChannelSlope, channelBack: 125, channelWidth: 1.1, channelColour: "#fcc98f",
  redLevel: 1.1319, redSteps: dailyRedSteps, greenSteps: dailyGreenSteps,
  levels: dailyLevels, pivots: dailyPivots, magenta: dailyMagenta,
  trends: dailyTrends, flat: dailyFlatBand, wave: dailyWave,
  last: 1.02324, lastLabel: "1.02324", badgeWidth: 58,
  momentum: dailyMomentum, momZero: 1041.3, momScale: 1.1, momWidth: 3.8,
  momTrend: [92, -60, 184.6, -51], momTicks: [40, 0, -40],
  fast: dailyStochFast, signal: dailyStochSignal, slowUp: dailyStochSlowUp, slowDown: dailyStochSlowDown,
  stochBand: [60, 50],
  stochRight: { domain: [40, 80], range: [1182, 1133], ticks: [40, 60, 80] },
  priceTicks: dailyPriceTicks, timeBars: dailyTimeBars, timeLabels: dailyTimeLabels,
  axisColour: "#c9ccd3", axisSize: 11.2, zX: 37, aX: 1453
});

drawPanel({
  left: 1493, right: 2981, plotLeft: 1548, plotRight: 2905,
  barDomain: [1, 197], barRange: [1552.3, 2706.7],
  priceDomain: [0.97, 1.25], priceRange: [982.1, 66.2],
  candles: weeklyCandles,
  wick: function() { return "#000000"; },
  symbol: "EURUSD, 1W", markX: 1967, markY: 493, markLength: 520, subX: 2031, subLength: 387,
  pink: weeklyPinkBands, greenBands: weeklyGreenBands,
  up: weeklyUpVolume, down: weeklyDownVolume,
  rowTop: 1.2341, rowBin: 0.0024, darkFrom: 24, darkTo: 70,
  channels: weeklyChannels, slope: weeklyChannelSlope, channelBack: 0, channelWidth: 1, channelColour: "#fdcb91",
  redLevel: 1.1330, redSteps: weeklyRedSteps, greenSteps: weeklyGreenSteps,
  levels: weeklyLevels, pivots: weeklyPivots,
  trends: weeklyTrends, wave: weeklyWave,
  last: 1.02322, lastLabel: "1.02322", badgeWidth: 62,
  momentum: weeklyMomentum, momZero: 1057.3, momScale: 0.738, momWidth: 3.2,
  momTrend: [165, -67, 204, -50], momTicks: [50, 0, -50],
  fast: weeklyStochFast, signal: weeklyStochSignal, slowUp: weeklyStochSlowUp, slowDown: weeklyStochSlowDown,
  stochBand: [54, 45],
  stochRight: { domain: [0, 100], range: [1197, 1133], ticks: [0, 50, 100] },
  priceTicks: weeklyPriceTicks, timeBars: weeklyTimeBars, timeLabels: weeklyTimeLabels,
  axisColour: "#50535e", axisSize: 11.8, zX: 1522, aX: 2942
});
</script>
</body>
</html>
